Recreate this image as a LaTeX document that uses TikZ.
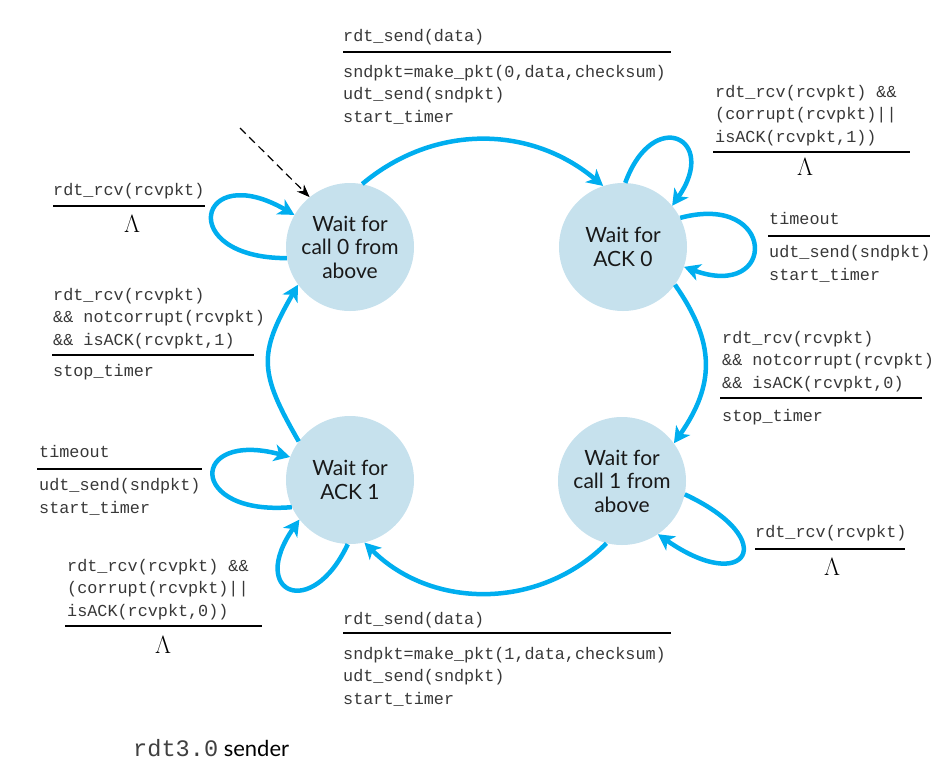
\documentclass[tikz,border=0pt]{standalone}
\usepackage{fontspec}
\setmainfont{Lato}
\setmonofont{Liberation Mono}
\usepackage{xcolor}
\usepackage{tikz}
\usetikzlibrary{arrows.meta}

\definecolor{fsmblue}{RGB}{0,174,239}
\definecolor{statefill}{RGB}{198,225,237}

\begin{document}
\begin{tikzpicture}[
    x=1pt, y=1pt,
    state/.style={circle, fill=statefill, minimum size=128pt, inner sep=0pt, align=center,
        text=black!90, font=\fontsize{21}{23.5}\selectfont},
    trans/.style={fsmblue, line width=4.5pt, -{Stealth[length=16pt, width=17pt, inset=4.5pt]}},
    % base of a multi-line block = baseline of its last line
    code/.style={anchor=base west, inner sep=0pt, align=left, text=black!78,
        font=\fontsize{16.8}{22.5}\selectfont\ttfamily},
    rule/.style={line width=1.2pt},
    lam/.style={inner sep=0pt, font=\fontsize{24}{24}\selectfont}
]
\useasboundingbox (0,0) rectangle (947,-772);

% --- 1. States ---
\node[state] (c0) at (350,-247) {Wait for\\call 0 from\\above};
\node[state] (a0) at (623,-247) {Wait for\\ACK 0};
\node[state] (a1) at (350,-480) {Wait for\\ACK 1};
\node[state] (c1) at (622,-481) {Wait for\\call 1 from\\above};

% --- 2. Initial arrow ---
\coordinate (init) at (240,-128);
\draw[dash pattern=on 8pt off 5pt, line width=1.2pt, -{Stealth[length=13pt, width=10pt]}] (init) -- (c0.129);

% --- 3. Transitions between states ---
\draw[trans] (c0.79) to[out=40, in=140] (a0.108);
\draw[trans] (a0.-36) to[out=-55, in=55, looseness=1.15] (c1.36);
\draw[trans] (c1.256) to[out=-135, in=-45] (a1.283);
\draw[trans] (a1.143) to[out=120, in=-120, looseness=1.3] (c0.216);

% --- 4. Self loops ---
\draw[trans] (c0.190) .. controls +(180:112) and +(150:112) .. (c0.150);
\draw[trans] (a0.88) .. controls +(70:82) and +(55:82) .. (a0.40);
\draw[trans] (a0.27) .. controls +(15:100) and +(-20:100) .. (a0.-18);
\draw[trans] (a1.205) .. controls +(185:105) and +(165:105) .. (a1.159);
\draw[trans] (a1.268) .. controls +(-115:85) and +(235:90) .. (a1.218);
\draw[trans] (c1.-12) .. controls +(-25:108) and +(-35:108) .. (c1.-56);

% --- 5. Labels ---
% call 0 -> ACK 0
\node[code] (sendzero) at (343,-41) {rdt\_send(data)};
\draw[rule] (343,-52) -- (671,-52);
\node[code] (mkzero) at (343,-122) {sndpkt=make\_pkt(0,data,checksum)\\udt\_send(sndpkt)\\start\_timer};

% ACK 0 top loop
\node[code] (badzero) at (715,-142) {rdt\_rcv(rcvpkt) \&\&\\(corrupt(rcvpkt)||\\isACK(rcvpkt,1))};
\draw[rule] (713,-152) -- (910,-152);
\node[lam] (lamzero) at (805,-167) {$\Lambda$};

% ACK 0 timeout
\node[code] (tozero) at (769,-224) {timeout};
\draw[rule] (768,-236) -- (930,-236);
\node[code] (resendzero) at (769,-280) {udt\_send(sndpkt)\\start\_timer};

% ACK 0 -> call 1
\node[code] (okzero) at (722,-388) {rdt\_rcv(rcvpkt)\\\&\& notcorrupt(rcvpkt)\\\&\& isACK(rcvpkt,0)};
\draw[rule] (720,-398) -- (922,-398);
\node[code] (stopzero) at (722,-421) {stop\_timer};

% call 1 loop
\node[code] (rcvone) at (755,-537) {rdt\_rcv(rcvpkt)};
\draw[rule] (755,-549) -- (905,-549);
\node[lam] (lamone) at (832,-567) {$\Lambda$};

% call 1 -> ACK 1
\node[code] (sendone) at (343,-624) {rdt\_send(data)};
\draw[rule] (343,-633) -- (671,-633);
\node[code] (mkone) at (343,-704) {sndpkt=make\_pkt(1,data,checksum)\\udt\_send(sndpkt)\\start\_timer};

% call 0 loop
\node[code] (rcvzero) at (53,-195) {rdt\_rcv(rcvpkt)};
\draw[rule] (53,-206) -- (205,-206);
\node[lam] (lamtop) at (132,-224) {$\Lambda$};

% ACK 1 -> call 0
\node[code] (okone) at (53,-345) {rdt\_rcv(rcvpkt)\\\&\& notcorrupt(rcvpkt)\\\&\& isACK(rcvpkt,1)};
\draw[rule] (52,-355) -- (254,-355);
\node[code] (stopone) at (53,-376) {stop\_timer};

% ACK 1 timeout
\node[code] (toone) at (39,-457) {timeout};
\draw[rule] (37,-469) -- (202,-469);
\node[code] (resendone) at (39,-513) {udt\_send(sndpkt)\\start\_timer};

% ACK 1 bottom loop
\node[code] (badone) at (67,-616) {rdt\_rcv(rcvpkt) \&\&\\(corrupt(rcvpkt)||\\isACK(rcvpkt,0))};
\draw[rule] (65,-626) -- (262,-626);
\node[lam] (lambot) at (163,-645) {$\Lambda$};

% --- 6. Caption ---
\node[anchor=base west, inner sep=0pt, font=\fontsize{22}{26}\selectfont] (caption) at (133,-756)
    {{\fontsize{23.6}{26}\selectfont\ttfamily\color{black!75}rdt3.0} sender};

\end{tikzpicture}
\end{document}
